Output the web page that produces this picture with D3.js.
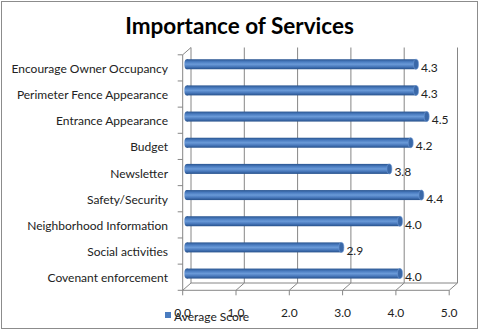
<!DOCTYPE html>
<html><head><meta charset="utf-8">
<script src="https://cdn.jsdelivr.net/npm/d3@7"></script>
<style>body{margin:0;background:#fff}svg{display:block}text{font-family:Lato,"Open Sans",sans-serif}</style>
</head><body><svg id="c" width="480" height="332"></svg>
<script>
const title = "Importance of Services";
const categories = ["Encourage Owner Occupancy","Perimeter Fence Appearance","Entrance Appearance","Budget","Newsletter","Safety/Security","Neighborhood Information","Social activities","Covenant enforcement"];
const values = [4.3,4.3,4.5,4.2,3.8,4.4,4.0,2.9,4.0];
const xTicks = [0,1,2,3,4,5];
const seriesName = "Average Score";

const svg = d3.select("#c");
const defs = svg.append("defs");
const g1 = defs.append("linearGradient").attr("id","cyl").attr("x1",0).attr("y1",0).attr("x2",0).attr("y2",1);
[[0,"#2a5590"],[0.25,"#4a7cc0"],[0.5,"#6a9ad8"],[0.75,"#4878bb"],[1,"#26508a"]].forEach(s=>g1.append("stop").attr("offset",s[0]).attr("stop-color",s[1]));

// border
svg.append("rect").attr("x",1.5).attr("y",1.5).attr("width",476).attr("height",327).attr("fill","#fff").attr("stroke","#8c8c8c");

// title
svg.append("text").attr("x",239.5).attr("y",33.5).attr("text-anchor","middle").attr("font-weight","bold").attr("font-size",22.5).attr("fill","#000").text(title);

// 3D geometry
const back = {l:191, r:457.5, t:47.5, b:283};
const dx = -8.3, dy = 7.3;
const xBack = d3.scaleLinear().domain([0,5]).range([back.l, back.r]);
const xFront = d3.scaleLinear().domain([0,5]).range([back.l+dx, back.r+dx]);
const xMid = d3.scaleLinear().domain([0,5]).range([back.l+dx/2, back.r+dx/2]);
const yFront = d3.scaleBand().domain(categories).range([back.t+dy, back.b+dy]);
const yMid = d3.scaleBand().domain(categories).range([back.t+dy/2, back.b+dy/2]);

const grid = "#868686";
const L = svg.append("g").attr("stroke",grid).attr("fill","none").attr("stroke-width",1);
xTicks.forEach(t=>{
  L.append("line").attr("x1",xBack(t)).attr("x2",xBack(t)).attr("y1",back.t).attr("y2",back.b);
  L.append("line").attr("x1",xBack(t)).attr("x2",xFront(t)).attr("y1",back.b).attr("y2",back.b+dy);
  L.append("line").attr("x1",xFront(t)).attr("x2",xFront(t)).attr("y1",back.b+dy).attr("y2",back.b+dy+5);
});
L.append("line").attr("x1",xBack(0)).attr("x2",xBack(5)).attr("y1",back.b).attr("y2",back.b);
L.append("line").attr("x1",xFront(0)).attr("x2",xFront(5)).attr("y1",back.b+dy).attr("y2",back.b+dy);
L.append("line").attr("x1",xFront(0)).attr("x2",xFront(0)).attr("y1",back.t+dy).attr("y2",back.b+dy);
L.append("line").attr("x1",xFront(0)).attr("x2",xBack(0)).attr("y1",back.t+dy).attr("y2",back.t);
const yb = [yFront.range()[0]].concat(categories.map(c=>yFront(c)+yFront.bandwidth()));
yb.forEach(y=>L.append("line").attr("x1",xFront(0)-5).attr("x2",xFront(0)).attr("y1",y).attr("y2",y));

// bars
const bh = 10;
const bars = svg.append("g");
categories.forEach((c,i)=>{
  const cy = yMid(c)+yMid.bandwidth()/2;
  const x0 = xMid(0), x1 = xMid(values[i]);
  bars.append("ellipse").attr("cx",x0).attr("cy",cy).attr("rx",2.5).attr("ry",bh/2).attr("fill","url(#cyl)");
  bars.append("rect").attr("x",x0).attr("y",cy-bh/2).attr("width",x1-x0).attr("height",bh).attr("fill","url(#cyl)");
  bars.append("ellipse").attr("cx",x1).attr("cy",cy).attr("rx",2.5).attr("ry",bh/2).attr("fill","#3a68a8").attr("stroke","#6f9ad6").attr("stroke-width",0.6);
  svg.append("text").attr("x",x1+5).attr("y",cy+7.5).attr("font-size",12).attr("fill","#222").text(d3.format(".1f")(values[i]));
});

categories.forEach(c=>{
  svg.append("text").attr("x",168).attr("y",yFront(c)+yFront.bandwidth()/2+5).attr("text-anchor","end").attr("font-size",12).attr("fill","#222").text(c);
});

xTicks.forEach(t=>{
  svg.append("text").attr("x",xFront(t)).attr("y",316.5).attr("text-anchor","middle").attr("font-size",12).attr("fill","#222").text(d3.format(".1f")(t));
});

svg.append("rect").attr("x",165).attr("y",312).attr("width",6).attr("height",6).attr("fill","#4a7cc0");
svg.append("text").attr("x",174).attr("y",320.5).attr("font-size",12).attr("fill","#222").text(seriesName);
</script></body></html>
